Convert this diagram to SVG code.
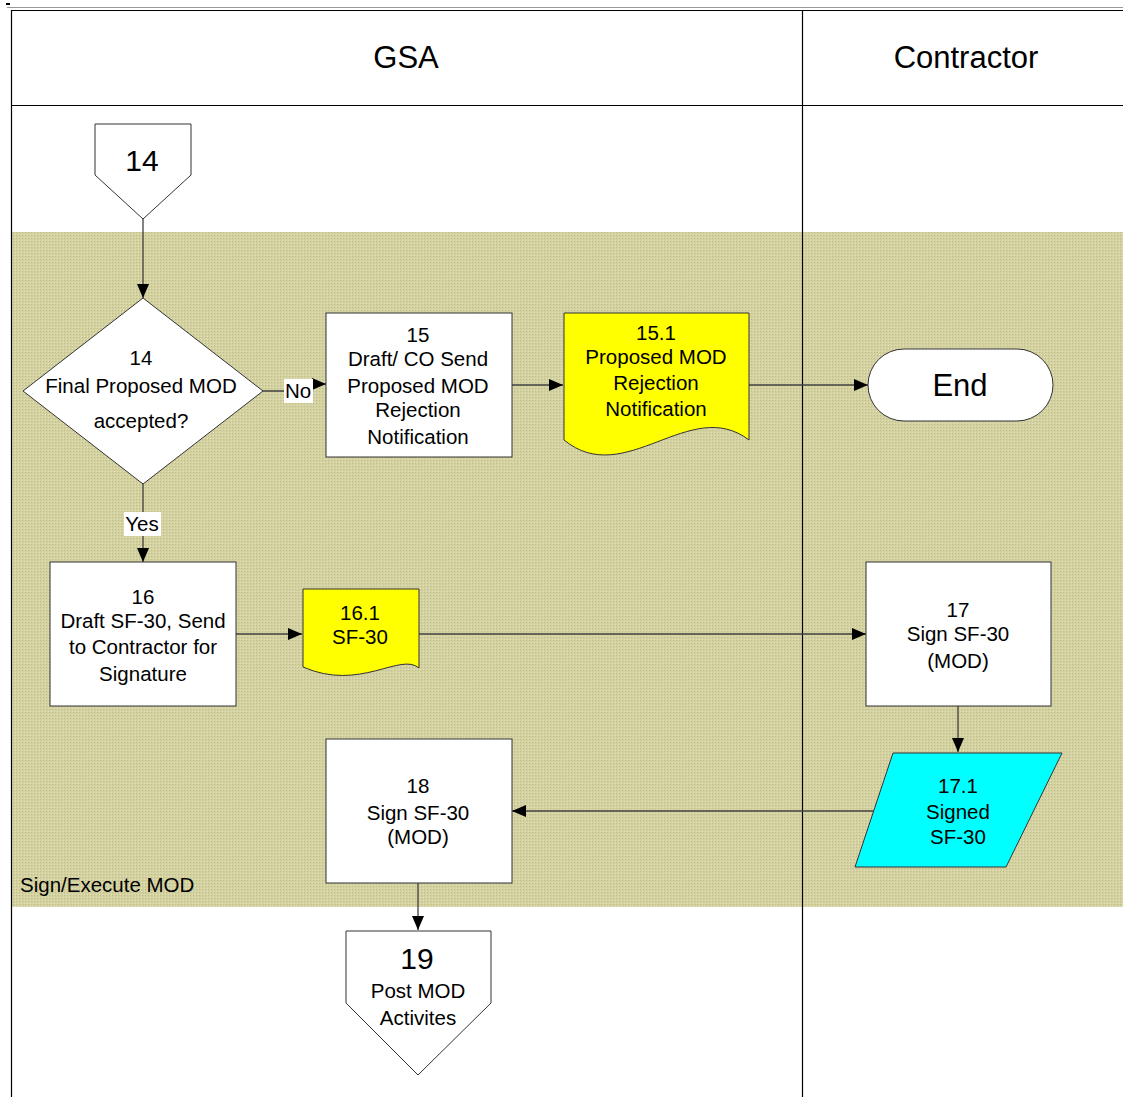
<svg xmlns="http://www.w3.org/2000/svg" width="1123" height="1097" viewBox="0 0 1123 1097">
<defs>
<pattern id="dots" width="3" height="3" patternUnits="userSpaceOnUse">
<rect width="3" height="3" fill="#d3d1a0"/>
<rect x="0" y="0" width="1" height="1" fill="#e4e2bc"/>
<rect x="1" y="1" width="1" height="1" fill="#bfbd88"/>
</pattern>
<marker id="ah" viewBox="0 0 14 12" refX="14" refY="6" markerWidth="14" markerHeight="12" markerUnits="userSpaceOnUse" orient="auto">
<path d="M0,0 L14,6 L0,12 Z" fill="#000"/>
</marker>
<style>
.t{font-family:"Liberation Sans",Arial,sans-serif;fill:#000;text-anchor:middle}
.s21{font-size:20.5px}
.box{fill:#fff;stroke:#333;stroke-width:1}
.doc{fill:#ffff00;stroke:#333;stroke-width:1}
.c{fill:none;stroke:#404040;stroke-width:1.3;marker-end:url(#ah)}
.ln{stroke:#000;stroke-width:1.2}
</style>
</defs>
<rect width="1123" height="1097" fill="#fff"/>
<g id="lanes">
<rect x="12" y="232" width="1111" height="675" fill="url(#dots)"/>
<rect x="6" y="3" width="4" height="2" fill="#000"/>
<line x1="7" y1="7.5" x2="1123" y2="7.5" stroke="#999" stroke-width="1"/>
<line x1="11" y1="10.5" x2="1123" y2="10.5" class="ln" stroke-width="1.5"/>
<line x1="11.5" y1="10" x2="11.5" y2="1097" class="ln"/>
<line x1="12" y1="105.5" x2="1123" y2="105.5" class="ln"/>
<line x1="802.5" y1="10" x2="802.5" y2="1097" class="ln"/>
<text class="t" x="406" y="68" font-size="31">GSA</text>
<text class="t" x="966" y="68" font-size="31">Contractor</text>
<text class="t s21" x="20" y="892" style="text-anchor:start" font-size="20.5">Sign/Execute MOD</text>
</g>
<g id="connectors">
<path class="c" d="M143,219 V298"/>
<path class="c" d="M263,391 H292 V384 H326"/>
<path class="c" d="M512,385 H563"/>
<path class="c" d="M749,385 H868"/>
<path class="c" d="M143,484 V562"/>
<path class="c" d="M236,634 H302"/>
<path class="c" d="M419,634 H866"/>
<path class="c" d="M958,706 V752"/>
<path class="c" d="M874,811 H512"/>
<path class="c" d="M418,883 V930"/>
<rect x="284" y="379" width="29" height="24" fill="#fff"/>
<text class="t s21" x="298" y="398">No</text>
<rect x="124" y="512" width="37" height="24" fill="#fff"/>
<text class="t s21" x="142" y="531">Yes</text>
</g>
<g id="n14off">
<path class="box" d="M95,124 H191 V175 L143,219 L95,175 Z"/>
<text class="t" x="142" y="171" font-size="30">14</text>
</g>
<g id="n14">
<path class="box" d="M143,298 L263,391 L143,484 L23,391 Z"/>
<text class="t s21" x="141" y="365">14</text>
<text class="t s21" x="141" y="393">Final Proposed MOD</text>
<text class="t s21" x="141" y="428">accepted?</text>
</g>
<g id="n15">
<rect class="box" x="326" y="313" width="186" height="144"/>
<text class="t s21" x="418" y="342">15</text>
<text class="t s21" x="418" y="366">Draft/ CO Send</text>
<text class="t s21" x="418" y="393">Proposed MOD</text>
<text class="t s21" x="418" y="417">Rejection</text>
<text class="t s21" x="418" y="444">Notification</text>
</g>
<g id="n151">
<path class="doc" d="M564,313 H749 V440 C690,395 625,490 564,440 Z"/>
<text class="t s21" x="656" y="340">15.1</text>
<text class="t s21" x="656" y="364">Proposed MOD</text>
<text class="t s21" x="656" y="390">Rejection</text>
<text class="t s21" x="656" y="416">Notification</text>
</g>
<g id="end">
<rect class="box" x="868" y="349" width="185" height="72" rx="36" ry="36"/>
<text class="t" x="960" y="396" font-size="31">End</text>
</g>
<g id="n16">
<rect class="box" x="50" y="562" width="186" height="144"/>
<text class="t s21" x="143" y="604">16</text>
<text class="t s21" x="143" y="628">Draft SF-30, Send</text>
<text class="t s21" x="143" y="654">to Contractor for</text>
<text class="t s21" x="143" y="681">Signature</text>
</g>
<g id="n161">
<path class="doc" d="M303,589 H419 V668 C400,652 360,692 303,667 Z"/>
<text class="t s21" x="360" y="620">16.1</text>
<text class="t s21" x="360" y="644">SF-30</text>
</g>
<g id="n17">
<rect class="box" x="866" y="562" width="185" height="144"/>
<text class="t s21" x="958" y="617">17</text>
<text class="t s21" x="958" y="641">Sign SF-30</text>
<text class="t s21" x="958" y="668">(MOD)</text>
</g>
<g id="n171">
<path d="M893,753 H1062 L1006,867 H855 Z" fill="#00ffff" stroke="#333" stroke-width="1"/>
<text class="t s21" x="958" y="793">17.1</text>
<text class="t s21" x="958" y="819">Signed</text>
<text class="t s21" x="958" y="844">SF-30</text>
</g>
<g id="n18">
<rect class="box" x="326" y="739" width="186" height="144"/>
<text class="t s21" x="418" y="793">18</text>
<text class="t s21" x="418" y="820">Sign SF-30</text>
<text class="t s21" x="418" y="844">(MOD)</text>
</g>
<g id="n19">
<path class="box" d="M346,931 H491 V1003 L418,1075 L346,1003 Z"/>
<text class="t" x="417" y="969" font-size="30">19</text>
<text class="t s21" x="418" y="998">Post MOD</text>
<text class="t s21" x="418" y="1025">Activites</text>
</g>
</svg>
